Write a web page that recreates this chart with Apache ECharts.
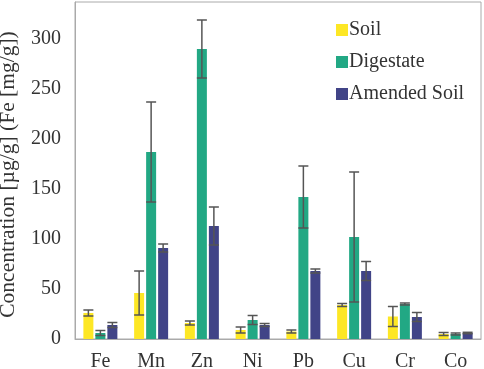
<!doctype html>
<html>
<head>
  <meta charset="utf-8">
  <title>Concentration</title>
  <script src="https://cdn.jsdelivr.net/npm/echarts@6/dist/echarts.min.js"></script>
  <style>
    html, body { margin: 0; padding: 0; background: #fff; }
    #main { width: 484px; height: 369px; }
  </style>
</head>
<body>
  <div id="main"></div>
<script type="text/javascript">
  // elements on the x axis
  var categories = ['Fe', 'Mn', 'Zn', 'Ni', 'Pb', 'Cu', 'Cr', 'Co'];
  // mean concentrations
  var soil      = [26, 46, 16, 9, 7.5, 34, 22.5, 5];
  var digestate = [6, 187, 290, 19, 142, 102, 35, 5];
  var amended   = [14, 91, 113, 14, 68, 68, 22, 6];
  // error bar half-lengths
  var soilErr      = [3, 22, 2, 3, 1.5, 1.5, 10, 1.5];
  var digestateErr = [2.5, 50, 29, 4.5, 31, 65, 1, 1];
  var amendedErr   = [2.5, 4, 19, 1.5, 2, 9.5, 4.5, 0.7];

  var colors = ['#fde725', '#22a884', '#414487'];
  var font = 'Liberation Serif';

  function errData(vals, errs) {
    return vals.map(function (v, i) { return [i, v - errs[i], v + errs[i]]; });
  }

  function errSeries(vals, errs, offset) {
    return {
      type: 'custom',
      z: 5,
      silent: true,
      encode: { x: 0, y: [1, 2] },
      data: errData(vals, errs),
      renderItem: function (params, api) {
        var lo = api.coord([api.value(0), api.value(1)]);
        var hi = api.coord([api.value(0), api.value(2)]);
        var x = lo[0] + offset;
        var hw = 5;
        var st = { stroke: '#555', lineWidth: 1.5 };
        return {
          type: 'group',
          children: [
            { type: 'line', shape: { x1: x, y1: lo[1], x2: x, y2: hi[1] }, style: st },
            { type: 'line', shape: { x1: x - hw, y1: lo[1], x2: x + hw, y2: lo[1] }, style: st },
            { type: 'line', shape: { x1: x - hw, y1: hi[1], x2: x + hw, y2: hi[1] }, style: st }
          ]
        };
      }
    };
  }

  var option = {
    animation: false,
    color: colors,
    grid: {
      left: 75, right: 3, top: 2, bottom: 30,
      outerBoundsMode: 'none',
      containLabel: false,
      show: true, borderColor: '#aaa', borderWidth: 1
    },
    legend: {
      orient: 'vertical',
      left: 336, top: 20,
      padding: 0,
      itemWidth: 12, itemHeight: 12, itemGap: 12,
      icon: 'rect',
      textStyle: { fontFamily: font, fontSize: 20, color: '#333', padding: [0, 0, 0, -4] },
      data: ['Soil', 'Digestate', 'Amended Soil']
    },
    xAxis: {
      type: 'category',
      data: categories,
      axisLine: { lineStyle: { color: '#aaa' } },
      axisTick: { show: false },
      axisLabel: { fontFamily: font, fontSize: 20, color: '#333', margin: 13 }
    },
    yAxis: {
      type: 'value',
      min: 0, max: 337, interval: 50,
      name: 'Concentration [µg/g] (Fe [mg/g])',
      nameLocation: 'middle',
      nameGap: 56,
      nameTextStyle: { fontFamily: font, fontSize: 21.5, color: '#333', padding: [0, 8, 0, 0] },
      axisLine: { show: true, lineStyle: { color: '#aaa' } },
      axisTick: { show: false },
      splitLine: { show: false },
      axisLabel: {
        fontFamily: font, fontSize: 20, color: '#333', margin: 14,
        showMaxLabel: false
      }
    },
    series: [
      { name: 'Soil', type: 'bar', data: soil, barWidth: 10, barGap: '20%' },
      { name: 'Digestate', type: 'bar', data: digestate, barWidth: 10, barGap: '20%' },
      { name: 'Amended Soil', type: 'bar', data: amended, barWidth: 10, barGap: '20%' },
      errSeries(soil, soilErr, -12),
      errSeries(digestate, digestateErr, 0),
      errSeries(amended, amendedErr, 12)
    ]
  };

  var myChart = echarts.init(document.getElementById('main'));
  myChart.setOption(option);
</script>
</body>
</html>
